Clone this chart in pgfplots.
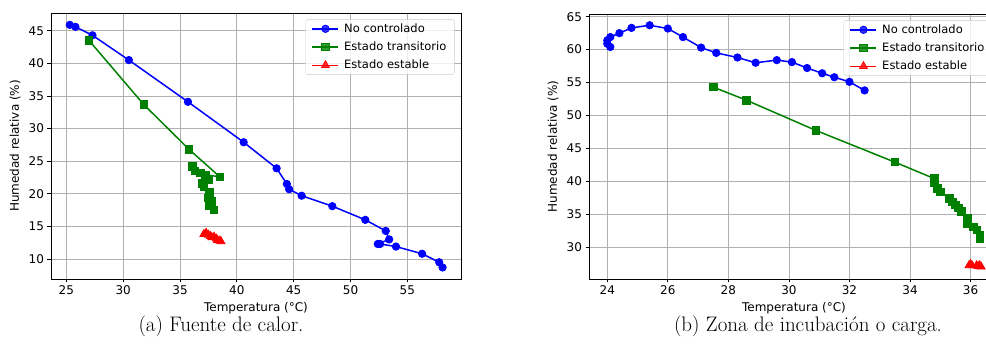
\documentclass[border=0pt]{standalone}
\usepackage{pgfplots}
\pgfplotsset{compat=1.18}
\usepackage{fontspec}
\newfontfamily\plotfont{DejaVu Sans}

\definecolor{mplblue}{RGB}{0,0,255}
\definecolor{mplgreen}{RGB}{0,128,0}
\definecolor{mplred}{RGB}{255,0,0}
\definecolor{gridgray}{RGB}{176,176,176}
\definecolor{legframe}{RGB}{204,204,204}

\pgfplotsset{
  humplot/.style={
    scale only axis,
    width=410pt, height=266pt,
    anchor=south west,
    font=\plotfont\fontsize{12}{14}\selectfont,
    /pgf/number format/assume math mode=true,
    axis line style={line width=0.8pt},
    tick align=outside, tick pos=left,
    major tick length=3.5pt,
    every tick/.style={black, line width=0.8pt},
    grid=major,
    major grid style={gridgray, line width=0.8pt},
    xlabel={Temperatura (°C)},
    ylabel={Humedad relativa (\%)},
    every axis x label/.style={at={(axis description cs:0.5,0)}, anchor=center, inner sep=0pt, yshift=-29.5pt},
    every axis y label/.style={at={(axis description cs:0,0.5)}, anchor=center, inner sep=0pt, rotate=90, yshift=36pt},
    legend cell align=left,
    legend image code/.code={\draw[mark repeat=2, mark phase=2] plot coordinates {(0pt,0pt) (13pt,0pt) (26pt,0pt)}; \path (29pt,0pt);},
    legend style={at={(1,1)}, anchor=north east, xshift=-6.5pt, yshift=-6.5pt,
      draw=legframe, rounded corners=2pt, fill=white, fill opacity=0.8, text opacity=1,
      font=\plotfont\fontsize{11.5}{13}\selectfont, row sep=4pt,
      inner xsep=6pt, inner ysep=2pt},
  },
  sin/.style={mplblue, line width=1.5pt, mark=*, mark size=3.7pt, mark options={line width=0.8pt, solid}},
  trans/.style={mplgreen, line width=1.5pt, mark=square*, mark size=3.7pt, mark options={line width=0.8pt, solid}},
  est/.style={mplred, line width=1.5pt, mark=triangle*, mark size=4.6pt, mark options={line width=0.8pt, solid}},
}

\begin{document}
\begin{tikzpicture}[x=1pt, y=1pt]
\begin{scope}
\clip (0,0) rectangle (986,364);

% (a) Fuente de calor
\begin{axis}[humplot, at={(51pt,85pt)},
  xmin=23.65, xmax=59.72, ymin=6.93, ymax=47.72,
  xtick={25,30,...,55}, ytick={10,15,...,45}]
\addplot[sin] coordinates {(25.3,45.9)(25.8,45.6)(27.3,44.3)(30.5,40.5)(35.7,34.1)(40.6,27.9)(43.5,23.9)(44.4,21.5)(44.6,20.7)(45.7,19.7)(48.4,18.1)(51.3,16.0)(53.1,14.3)(53.4,13.0)(52.4,12.3)(52.6,12.3)(54.0,11.9)(56.3,10.8)(57.8,9.5)(58.1,8.7)};
\addlegendentry{No controlado}
\addplot[trans] coordinates {(27.0,43.5)(31.8,33.7)(35.8,26.8)(38.5,22.6)(37.3,22.9)(36.8,23.2)(36.1,24.2)(36.3,23.5)(37.2,22.5)(37.5,22.1)(36.9,21.6)(37.1,21.1)(37.6,20.2)(37.5,19.4)(37.8,18.8)(37.6,18.1)(38.0,17.5)};
\addlegendentry{Estado transitorio}
\addplot[est] coordinates {(37.1,13.8)(37.3,14.0)(37.5,13.7)(37.7,13.5)(37.8,13.3)(38.0,13.4)(38.2,13.1)(38.3,12.9)(38.5,12.8)(38.6,12.7)};
\addlegendentry{Estado estable}
\end{axis}

% (b) Zona de incubacion o carga
\begin{axis}[humplot, at={(589pt,85pt)}, height=265pt,
  xmin=23.396, xmax=36.94, ymin=25.14, ymax=65.41,
  xtick={24,26,...,36}, ytick={30,35,...,65}]
\addplot[sin] coordinates {(24.1,60.4)(24.0,60.9)(24.0,61.4)(24.1,61.9)(24.4,62.5)(24.8,63.3)(25.4,63.7)(26.0,63.2)(26.5,61.9)(27.1,60.3)(27.6,59.5)(28.3,58.8)(28.9,58.0)(29.6,58.4)(30.1,58.1)(30.6,57.2)(31.1,56.4)(31.5,55.8)(32.0,55.1)(32.5,53.8)};
\addlegendentry{No controlado}
\addplot[trans] coordinates {(27.5,54.3)(28.6,52.3)(30.9,47.7)(33.5,42.9)(34.8,40.4)(34.8,39.7)(34.9,38.9)(35.0,38.4)(35.3,37.4)(35.4,36.9)(35.5,36.4)(35.6,35.9)(35.7,35.4)(35.9,34.4)(35.9,33.6)(36.1,33.1)(36.2,32.6)(36.3,31.8)(36.3,31.3)};
\addlegendentry{Estado transitorio}
\addplot[est] coordinates {(35.95,27.2)(36.0,27.4)(36.05,27.2)(36.2,27.2)(36.25,27.1)(36.3,27.2)(36.35,27.0)};
\addlegendentry{Estado estable}
\end{axis}
\end{scope}

% sub-captions
\node[anchor=base, inner sep=0pt, font=\fontsize{21}{25}\selectfont] at (221,32) {(a) Fuente de calor.};
\node[anchor=base, inner sep=0pt, font=\fontsize{21}{25}\selectfont] at (808,32) {(b) Zona de incubación o carga.};

% page = the two panels, cut at the right edge
\pgfresetboundingbox
\path[use as bounding box] (0,0) rectangle (986,364);
\end{tikzpicture}
\end{document}
